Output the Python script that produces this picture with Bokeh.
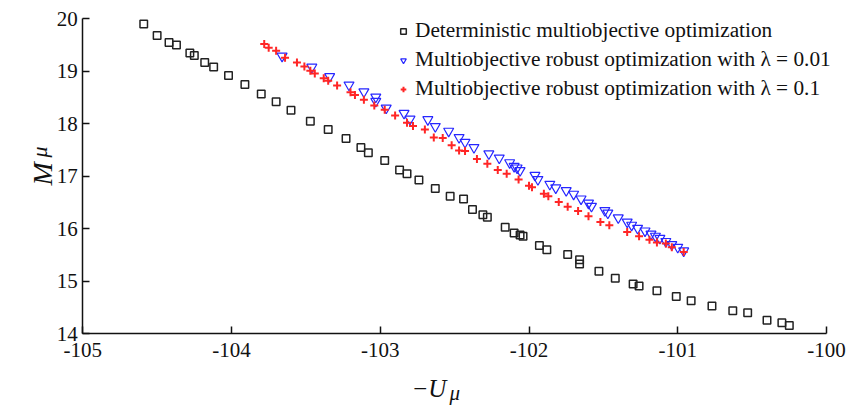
import math
from bokeh.plotting import figure
from bokeh.models import Range1d, FixedTicker, Legend, LegendItem, Label
from bokeh.embed import file_html
from bokeh.resources import INLINE

# Deterministic multiobjective optimization
det_x = [-104.59, -104.50, -104.42, -104.37, -104.28, -104.25, -104.18, -104.12, -104.02, -103.91,
         -103.80, -103.70, -103.60, -103.47, -103.35, -103.23, -103.13, -103.08, -102.97, -102.87,
         -102.82, -102.74, -102.63, -102.53, -102.44, -102.38, -102.31, -102.28, -102.16, -102.10,
         -102.06, -102.04, -101.93, -101.88, -101.74, -101.66, -101.66, -101.53, -101.42, -101.30,
         -101.26, -101.14, -101.01, -100.91, -100.77, -100.63, -100.53, -100.40, -100.30, -100.25]
det_y = [19.90, 19.68, 19.55, 19.50, 19.35, 19.30, 19.17, 19.08, 18.92, 18.75,
         18.57, 18.42, 18.26, 18.05, 17.89, 17.72, 17.55, 17.45, 17.30, 17.12,
         17.05, 16.93, 16.77, 16.62, 16.57, 16.37, 16.27, 16.22, 16.03, 15.92,
         15.88, 15.86, 15.68, 15.60, 15.51, 15.41, 15.33, 15.19, 15.06, 14.95,
         14.91, 14.82, 14.71, 14.63, 14.53, 14.44, 14.40, 14.26, 14.21, 14.16]

# Multiobjective robust optimization, lambda = 0.01
rob1_x = [-103.66, -103.46, -103.34, -103.21, -103.11, -103.03, -103.03, -102.96, -102.84, -102.80,
          -102.68, -102.63, -102.54, -102.47, -102.43, -102.37, -102.27, -102.20, -102.13, -102.10,
          -102.08, -102.06, -101.96, -101.94, -101.86, -101.82, -101.75, -101.70, -101.65, -101.60,
          -101.58, -101.49, -101.47, -101.40, -101.34, -101.31, -101.27, -101.22, -101.18, -101.15,
          -101.12, -101.08, -101.04, -101.00, -100.96]
rob1_y = [19.29, 19.08, 18.90, 18.74, 18.61, 18.51, 18.43, 18.30, 18.20, 18.09,
          18.08, 17.95, 17.86, 17.74, 17.65, 17.55, 17.43, 17.35, 17.26, 17.19,
          17.16, 17.11, 17.02, 16.94, 16.85, 16.78, 16.73, 16.66, 16.57, 16.49,
          16.43, 16.35, 16.30, 16.21, 16.13, 16.07, 16.01, 15.96, 15.90, 15.86,
          15.82, 15.76, 15.70, 15.65, 15.58]

# Multiobjective robust optimization, lambda = 0.1
rob2_x = [-103.78, -103.75, -103.70, -103.64, -103.56, -103.51, -103.47, -103.44, -103.38, -103.35,
          -103.29, -103.20, -103.17, -103.11, -103.04, -102.97, -102.90, -102.82, -102.78, -102.70,
          -102.64, -102.58, -102.52, -102.47, -102.43, -102.35, -102.28, -102.21, -102.15, -102.07,
          -102.00, -101.98, -101.90, -101.87, -101.80, -101.74, -101.67, -101.60, -101.52, -101.46,
          -101.34, -101.26, -101.19, -101.14, -101.08, -101.04, -100.96]
rob2_y = [19.52, 19.45, 19.39, 19.26, 19.17, 19.09, 19.01, 18.96, 18.87, 18.82,
          18.73, 18.60, 18.55, 18.46, 18.35, 18.27, 18.16, 18.02, 17.96, 17.89,
          17.74, 17.73, 17.59, 17.49, 17.48, 17.33, 17.24, 17.12, 17.05, 16.94,
          16.82, 16.79, 16.67, 16.62, 16.51, 16.42, 16.34, 16.24, 16.13, 16.07,
          15.94, 15.86, 15.79, 15.74, 15.72, 15.65, 15.56]

x_ticks = [-105, -104, -103, -102, -101, -100]
y_ticks = [14, 15, 16, 17, 18, 19, 20]
labels = ["Deterministic multiobjective optimization",
          "Multiobjective robust optimization with \u03bb = 0.01",
          "Multiobjective robust optimization with \u03bb = 0.1"]

SERIF = "Liberation Serif"
INK = "#111111"
W, H = 862, 411
# pixel geometry of the axes box inside the canvas
PX_LEFT, PX_RIGHT, PX_TOP, PX_BOTTOM = 82.25, 826.0, 18.3, 333.3
x0, x1 = x_ticks[0], x_ticks[-1]
y0, y1 = y_ticks[0], y_ticks[-1]
sx = (PX_RIGHT - PX_LEFT) / (x1 - x0)
sy = (PX_BOTTOM - PX_TOP) / (y1 - y0)
x_range = Range1d(x0 - PX_LEFT / sx, x0 + (W - PX_LEFT) / sx)
y_range = Range1d(y0 - (H - PX_BOTTOM) / sy, y1 + PX_TOP / sy)

p = figure(width=W, height=H, output_backend="svg", toolbar_location=None,
           x_range=x_range, y_range=y_range,
           min_border_left=0, min_border_right=0, min_border_top=0, min_border_bottom=0)
p.grid.visible = False
p.outline_line_color = None
p.background_fill_color = "white"

xa, ya = p.xaxis[0], p.yaxis[0]
xa.fixed_location = y0
ya.fixed_location = x0
xa.bounds = (x0, x1)
ya.bounds = (y0, y1)
for ax in (xa, ya):
    ax.major_tick_in = 7
    ax.major_tick_out = 0
    ax.minor_tick_line_color = None
    ax.axis_line_width = 1.5
    ax.axis_line_color = INK
    ax.major_tick_line_width = 1.5
    ax.major_tick_line_color = INK
    ax.major_label_text_font = SERIF
    ax.major_label_text_font_size = "21px"
    ax.major_label_text_color = INK
xa.ticker = FixedTicker(ticks=x_ticks)
ya.ticker = FixedTicker(ticks=y_ticks)
xa.major_label_overrides = {t: str(t) for t in x_ticks}
ya.major_label_overrides = {t: str(t) for t in y_ticks}
xa.major_label_standoff = 9
ya.major_label_standoff = 5

r_det = p.scatter(det_x, det_y, marker="square", size=7.5, fill_color=None,
                  line_color="#222222", line_width=1.5)
r_rob1 = p.scatter(rob1_x, rob1_y, marker="inverted_triangle", size=10, fill_color=None,
                   line_color="#2626ff", line_width=1.2)
r_rob2 = p.scatter(rob2_x, rob2_y, marker="cross", size=8, line_color="#ff2626", line_width=2)

legend = Legend(items=[LegendItem(label=labels[0], renderers=[r_det]),
                       LegendItem(label=labels[1], renderers=[r_rob1]),
                       LegendItem(label=labels[2], renderers=[r_rob2])],
                location=(396, 310), padding=0, margin=0, spacing=4,
                glyph_width=14, glyph_height=20, label_height=20, label_standoff=5,
                label_text_font=SERIF, label_text_font_size="21.3px", label_text_color=INK,
                border_line_color=None, background_fill_alpha=0)
p.add_layout(legend)

# axis titles (screen units measured from the bottom-left of the canvas-sized frame)
p.add_layout(Label(x=411, y=23, x_units="screen", y_units="screen", text="\u2212U",
                   text_font=SERIF, text_font_style="italic", text_font_size="25px",
                   text_color=INK, text_baseline="alphabetic"))
p.add_layout(Label(x=449, y=19, x_units="screen", y_units="screen", text="\u03bc",
                   text_font=SERIF, text_font_style="italic", text_font_size="21px",
                   text_color=INK, text_baseline="alphabetic"))
p.add_layout(Label(x=42, y=226, x_units="screen", y_units="screen", text="M",
                   angle=math.pi / 2, text_font=SERIF, text_font_style="italic",
                   text_font_size="28px", text_color=INK, text_baseline="alphabetic"))
p.add_layout(Label(x=39, y=254, x_units="screen", y_units="screen", text="\u03bc",
                   angle=math.pi / 2, text_font=SERIF, text_font_style="italic",
                   text_font_size="22px", text_color=INK, text_baseline="alphabetic"))

open("out.html", "w").write(file_html(p, INLINE))
